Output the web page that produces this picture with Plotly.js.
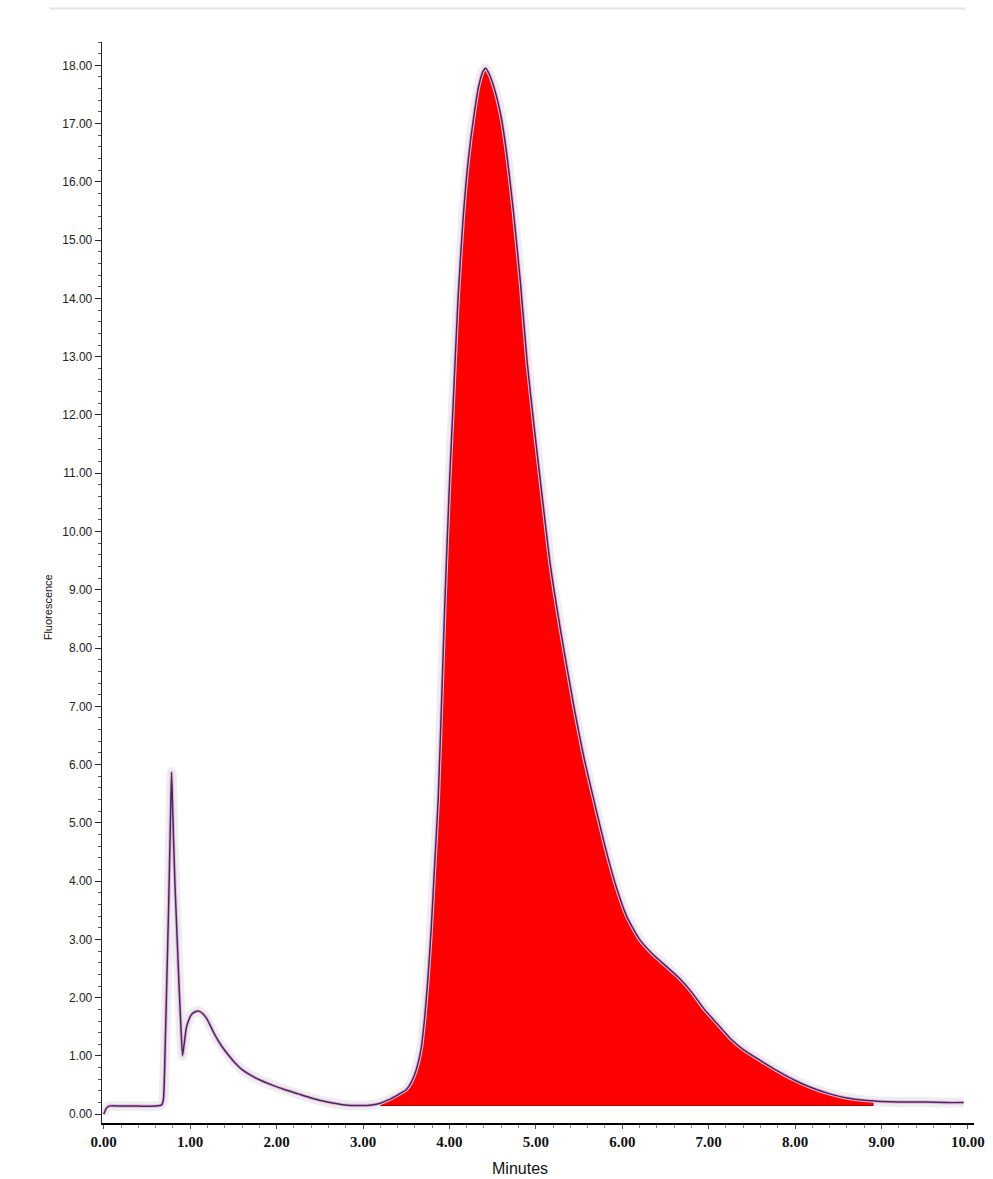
<!DOCTYPE html>
<html>
<head>
<meta charset="utf-8">
<script src="https://cdn.plot.ly/plotly-3.0.1.min.js"></script>
<style>
  html, body { margin: 0; padding: 0; background: #ffffff; }
  #chart { width: 993px; height: 1179px; }
</style>
</head>
<body>
<div id="chart"></div>
<script>
// Chromatogram trace: retention time (minutes) and detector response
const timeMin = [
  0, 0.03, 0.06, 0.2, 0.4, 0.6, 0.67, 0.69, 0.71, 0.73, 0.75, 0.77, 0.785, 0.80,
  0.823, 0.85, 0.87, 0.89, 0.912, 0.93, 0.958, 0.99, 1.02, 1.06, 1.1, 1.15, 1.2,
  1.28, 1.36, 1.44, 1.52, 1.59, 1.7, 1.82, 1.95, 2.1, 2.25, 2.4, 2.59, 2.79, 2.98,
  3.1, 3.2, 3.3, 3.4, 3.5, 3.56, 3.62, 3.67, 3.71, 3.75, 3.79, 3.83, 3.87, 3.91, 3.95, 4.0,
  4.05, 4.1, 4.16, 4.22, 4.28, 4.34, 4.39, 4.42, 4.46, 4.52, 4.6, 4.67, 4.74, 4.82,
  4.9, 4.98, 5.06, 5.17, 5.29, 5.44, 5.56, 5.67, 5.8, 5.92, 6.05, 6.2, 6.35, 6.5,
  6.65, 6.8, 6.95, 7.1, 7.25, 7.4, 7.6, 7.8, 8.0, 8.2, 8.4, 8.6, 8.8, 8.9, 9.0,
  9.2, 9.5, 9.75, 9.95
];
const fluorescence = [
  0.0, 0.1, 0.14, 0.14, 0.14, 0.14, 0.16, 0.25, 1.1, 2.3, 3.5, 4.9, 5.87, 5.1,
  4.0, 3.0, 2.26, 1.6, 1.01, 1.2, 1.5, 1.64, 1.72, 1.76, 1.77, 1.72, 1.62,
  1.38, 1.18, 1.02, 0.88, 0.78, 0.67, 0.58, 0.5, 0.42, 0.35, 0.28, 0.21, 0.16, 0.15,
  0.16, 0.19, 0.25, 0.33, 0.42, 0.55, 0.78, 1.1, 1.6, 2.3, 3.2, 4.3, 5.4, 7.1, 8.9, 10.8,
  12.4, 14.0, 15.4, 16.4, 17.1, 17.65, 17.9, 17.95, 17.85, 17.6, 17.1, 16.4, 15.5, 14.3,
  12.9, 11.8, 10.77, 9.4, 8.27, 7.0, 6.1, 5.4, 4.6, 3.95, 3.4, 3.0, 2.75, 2.55,
  2.35, 2.1, 1.8, 1.55, 1.3, 1.11, 0.92, 0.74, 0.58, 0.45, 0.35, 0.28, 0.24, 0.23, 0.22,
  0.21, 0.21, 0.2, 0.2
];

// Integrated peak: start/end times and the drop line level
const peakStart = 3.2;
const peakEnd = 8.9;
const peakBaseline = 0.15;

// Axis ticks
const xTickVals = [0, 1, 2, 3, 4, 5, 6, 7, 8, 9, 10];
const yTickVals = [0, 1, 2, 3, 4, 5, 6, 7, 8, 9, 10, 11, 12, 13, 14, 15, 16, 17, 18];

// Polygon of the integrated area: curve segment closed along the baseline
const segX = [], segY = [];
timeMin.forEach((t, i) => {
  if (t >= peakStart && t <= peakEnd) { segX.push(t); segY.push(fluorescence[i]); }
});
const areaX = segX.concat([peakEnd, peakStart]);
const areaY = segY.concat([peakBaseline, peakBaseline]);

const traces = [
  { // soft grey halo around the trace
    x: timeMin, y: fluorescence, mode: 'lines', hoverinfo: 'skip',
    line: { color: 'rgba(236,236,240,0.9)', width: 10, shape: 'spline', smoothing: 0.6 }
  },
  { // filled peak area
    x: areaX, y: areaY, mode: 'lines', fill: 'toself',
    fillcolor: '#ff0000', hoverinfo: 'skip',
    line: { color: '#b00000', width: 1.2 }
  },
  { // pink outline of the trace
    x: timeMin, y: fluorescence, mode: 'lines', hoverinfo: 'skip',
    line: { color: '#f0b8d8', width: 3.6, shape: 'spline', smoothing: 0.6 }
  },
  { // detector signal
    x: timeMin, y: fluorescence, mode: 'lines', name: 'Fluorescence',
    line: { color: '#3c2c62', width: 1.5, shape: 'spline', smoothing: 0.6 }
  }
];

const layout = {
  width: 993, height: 1179,
  margin: { l: 102, r: 19, t: 42, b: 56 },
  paper_bgcolor: '#ffffff', plot_bgcolor: '#ffffff',
  showlegend: false,
  xaxis: {
    range: [-0.02, 10.07],
    showgrid: false, zeroline: false,
    showline: true, linecolor: '#000000', linewidth: 2,
    tickvals: xTickVals, tickformat: '.2f',
    ticks: 'outside', ticklen: 4, tickcolor: '#555555',
    minor: { dtick: 0.2, ticks: 'outside', ticklen: 3, tickcolor: '#888888' },
    tickfont: { family: 'Liberation Serif, Times New Roman, serif', size: 15, color: '#111111', weight: 'bold' }
  },
  yaxis: {
    range: [-0.15, 18.4],
    showgrid: false, zeroline: false,
    showline: true, linecolor: '#222222', linewidth: 1.3,
    tickvals: yTickVals, tickformat: '.2f',
    ticks: 'outside', ticklen: 6, tickcolor: '#222222',
    minor: { dtick: 0.2, ticks: 'outside', ticklen: 3, tickcolor: '#555555' },
    tickfont: { family: 'Liberation Sans, Arial, sans-serif', size: 12, color: '#222222' }
  },
  annotations: [
    { text: 'Minutes', xref: 'paper', yref: 'paper', x: 0.479, y: -0.042,
      xanchor: 'center', yanchor: 'middle', showarrow: false,
      font: { family: 'Liberation Sans, Arial, sans-serif', size: 16, color: '#111111' } },
    { text: 'Fluorescence', xref: 'paper', yref: 'paper', x: -0.062, y: 0.477,
      xanchor: 'center', yanchor: 'middle', textangle: -90, showarrow: false,
      font: { family: 'Liberation Sans, Arial, sans-serif', size: 11, color: '#111111' } }
  ],
  shapes: [
    { type: 'line', xref: 'paper', yref: 'paper', x0: -0.06, x1: 0.99, y0: 1.031, y1: 1.031,
      line: { color: '#e4e4e4', width: 2 } }
  ]
};

Plotly.newPlot('chart', traces, layout, { displayModeBar: false, staticPlot: true });
</script>
</body>
</html>
